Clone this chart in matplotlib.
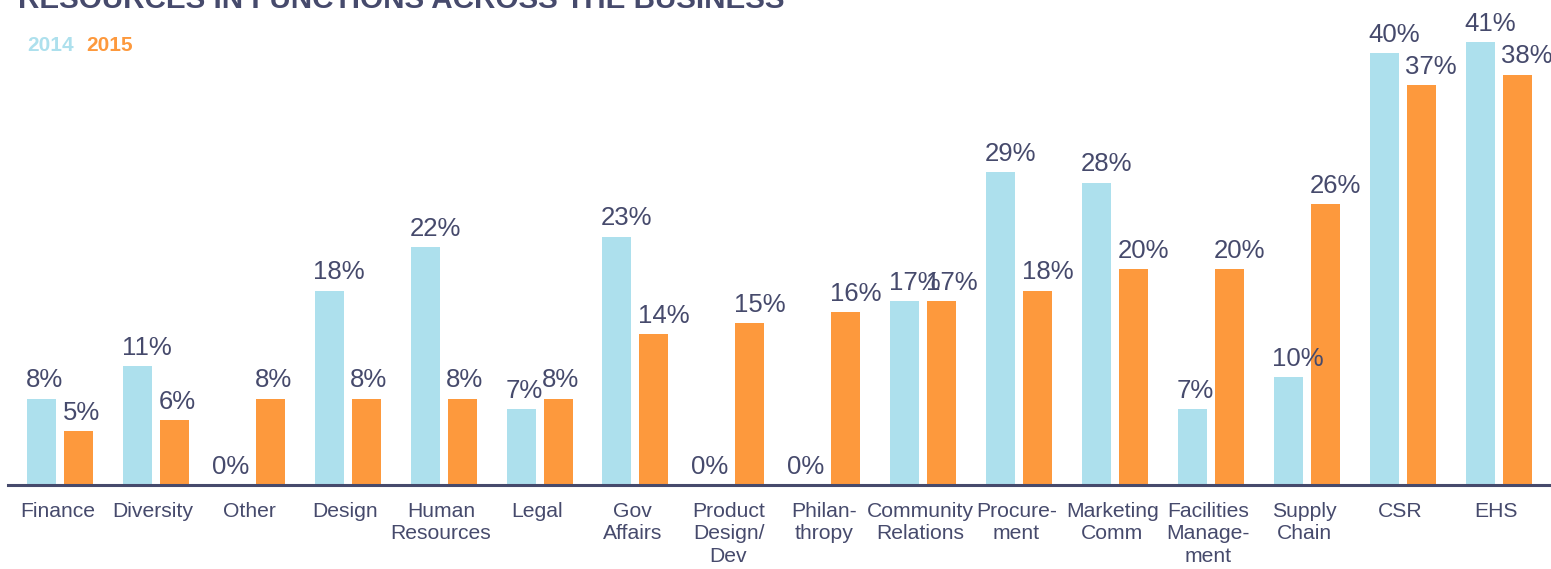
import numpy as np
import matplotlib.pyplot as plt

plt.rcParams['font.family'] = ['Liberation Sans', 'DejaVu Sans']

# Доля ресурсов по функциям, %
categories = ["Finance", "Diversity", "Other", "Design", "Human\nResources", "Legal",
              "Gov\nAffairs", "Product\nDesign/\nDev", "Philan-\nthropy", "Community\nRelations",
              "Procure-\nment", "Marketing\nComm", "Facilities\nManage-\nment", "Supply\nChain",
              "CSR", "EHS"]
vals_2014 = [8, 11, 0, 18, 22, 7, 23, 0, 0, 17, 29, 28, 7, 10, 40, 41]
vals_2015 = [5, 6, 8, 8, 8, 8, 14, 15, 16, 17, 18, 20, 20, 26, 37, 38]

BLUE = '#ade0ed'
ORANGE = '#fd993d'
NAVY = '#464a6c'

# Размеры окна
W, H = 15.51, 5.69

fig = plt.figure(figsize=(W, H), dpi=100)
ax = fig.add_axes([0, 0, 1, 1])
ax.set_xlim(-0.626, 15.547)
ax.set_ylim(-7.78, 44.9)
ax.axis('off')

x = np.arange(len(categories))
bw = 0.302
off = 0.193

ax.bar(x - off, vals_2014, bw, color=BLUE, zorder=2)
ax.bar(x + off, vals_2015, bw, color=ORANGE, zorder=2)

# Подписи значений над столбцами
for i in range(len(categories)):
    for v, dx in ((vals_2014[i], -off), (vals_2015[i], off)):
        left = x[i] + dx - bw / 2
        shift = -5 if v == 0 else -1
        ax.annotate(f"{v}%", (left, v), xytext=(shift, 8), textcoords='offset points',
                    ha='left', va='baseline', fontsize=18.5, color=NAVY, zorder=3)

# Базовая линия
ax.axhline(0, xmin=8 / 1551, xmax=1, color=NAVY, lw=2.2, zorder=4)

# Подписи категорий
for i, c in enumerate(categories):
    ax.annotate(c, (x[i], 0), xytext=(-2, -12), textcoords='offset points',
                ha='center', va='top', fontsize=15.2, color=NAVY, linespacing=1.24)

# Заголовок (обрезан сверху) и легенда
fig.text(18 / 1551, 1 - 8 / 569, "RESOURCES IN FUNCTIONS ACROSS THE BUSINESS",
         fontsize=21.3, fontweight='bold', color=NAVY, va='baseline',
         family=['Liberation Sans Narrow', 'Liberation Sans'])
fig.text(27 / 1551, 1 - 51 / 569, "2014", fontsize=15, fontweight='bold', color=BLUE,
         va='baseline', family=['Liberation Sans Narrow', 'Liberation Sans'])
fig.text(86 / 1551, 1 - 51 / 569, "2015", fontsize=15, fontweight='bold', color=ORANGE,
         va='baseline', family=['Liberation Sans Narrow', 'Liberation Sans'])

plt.savefig("out.png", dpi=100)
